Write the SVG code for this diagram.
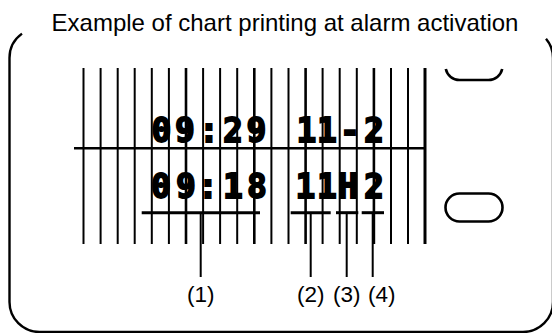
<svg xmlns="http://www.w3.org/2000/svg" width="552" height="333" viewBox="0 0 552 333">
<style>
.ln{stroke:#000;fill:none}
.grid{stroke:#000;stroke-width:2}
.title{font-family:"Liberation Sans",Arial,sans-serif;font-size:24px;fill:#000}
.lbl{font-family:"Liberation Sans",Arial,sans-serif;font-size:22.5px;fill:#000;text-anchor:middle}
.dig{font-family:"DejaVu Sans Mono","Liberation Mono",monospace;font-weight:bold;font-size:33px;fill:#000;stroke:#000;stroke-width:1.8;stroke-linejoin:miter;text-anchor:middle}
</style>
<rect width="552" height="333" fill="#fff"/>
<g id="title"><text class="title" x="285" y="31" text-anchor="middle">Example of chart printing at alarm activation</text></g>
<g id="frame"><path class="ln" stroke-width="2.4" d="M22,33.6 A30,30 0 0 0 9.5,58 V302 A30,30 0 0 0 39.5,332 H523 A30,30 0 0 0 553,302 V58 A30,30 0 0 0 546,38.7"/></g>
<g id="buttons">
<path id="button-top" class="ln" stroke-width="2.6" d="M445.8,69 A14,14 0 0 0 459.5,80 H488.5 A14,14 0 0 0 502.2,69"/>
<rect id="button-bottom" class="ln" stroke-width="2.6" x="445.5" y="193.5" width="57" height="28" rx="14"/>
</g>
<g id="chart">
<g class="grid">
<line x1="83.5" y1="68" x2="83.5" y2="244"/>
<line x1="100.6" y1="68" x2="100.6" y2="244"/>
<line x1="117.7" y1="68" x2="117.7" y2="244"/>
<line x1="134.7" y1="68" x2="134.7" y2="244"/>
<line x1="151.8" y1="68" x2="151.8" y2="244"/>
<line x1="168.9" y1="68" x2="168.9" y2="244"/>
<line x1="186" y1="68" x2="186" y2="244" stroke-width="2.6"/>
<line x1="203.1" y1="68" x2="203.1" y2="244"/>
<line x1="220.1" y1="68" x2="220.1" y2="244"/>
<line x1="237.2" y1="68" x2="237.2" y2="244"/>
<line x1="254.3" y1="68" x2="254.3" y2="244" stroke-width="2.6"/>
<line x1="271.4" y1="68" x2="271.4" y2="244"/>
<line x1="288.5" y1="68" x2="288.5" y2="244"/>
<line x1="305.6" y1="68" x2="305.6" y2="244" stroke-width="2.6"/>
<line x1="322.6" y1="68" x2="322.6" y2="244"/>
<line x1="339.7" y1="68" x2="339.7" y2="244"/>
<line x1="356.8" y1="68" x2="356.8" y2="244"/>
<line x1="373.9" y1="68" x2="373.9" y2="244" stroke-width="2.6"/>
<line x1="391" y1="68" x2="391" y2="244"/>
<line x1="408" y1="68" x2="408" y2="244"/>
<line x1="425" y1="68" x2="425" y2="244" stroke-width="3"/>
<line x1="74" y1="148.3" x2="425" y2="148.3" stroke-width="2.4"/>
</g>
<text class="dig" x="161.5 185 209 233 256.5" y="142">09:29</text>
<text class="dig" x="306.5 327 350 374" y="142">11-2</text>
<text class="dig" x="161 186 208 233 257" y="198">09:18</text>
<text class="dig" x="305.5 327 348 374" y="198">11H2</text>
</g>
<g id="connectors" class="ln" stroke-width="2">
<line x1="141.7" y1="212.7" x2="260" y2="212.7" stroke-width="3"/>
<line x1="200.7" y1="212.7" x2="200.7" y2="277"/>
<line x1="290.7" y1="212.7" x2="330.7" y2="212.7" stroke-width="3"/>
<line x1="310.7" y1="212.7" x2="310.7" y2="277"/>
<line x1="336" y1="212.7" x2="358.3" y2="212.7" stroke-width="3"/>
<line x1="346.7" y1="212.7" x2="346.7" y2="277"/>
<line x1="361.7" y1="212.7" x2="384" y2="212.7" stroke-width="3"/>
<line x1="372.7" y1="212.7" x2="372.7" y2="277"/>
</g>
<g id="labels">
<text class="lbl" x="200.7" y="301.5">(1)</text>
<text class="lbl" x="310.7" y="301.5">(2)</text>
<text class="lbl" x="346.7" y="301.5">(3)</text>
<text class="lbl" x="381.7" y="301.5">(4)</text>
</g>
</svg>
